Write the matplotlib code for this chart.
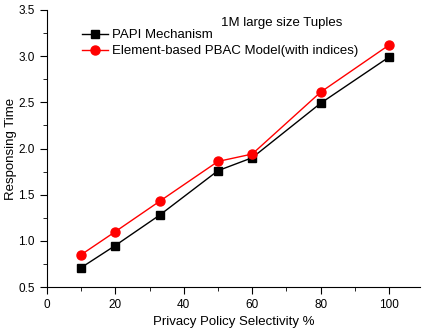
#!/usr/bin/env python3

import matplotlib
matplotlib.use("Agg")
import matplotlib.pyplot as plt
from matplotlib.ticker import MultipleLocator

plt.rcParams["font.family"] = ["Liberation Sans", "DejaVu Sans"]

# privacy policy selectivity (%)
selectivity = [10, 20, 33, 50, 60, 80, 100]
papi = [0.71, 0.95, 1.28, 1.76, 1.90, 2.49, 2.99]
pbac = [0.85, 1.10, 1.43, 1.86, 1.94, 2.61, 3.12]

labels = ["PAPI Mechanism", "Element-based PBAC Model(with indices)"]


def makeGraph(ax):
    ax.plot(selectivity, papi, color="black", marker="s", markersize=6,
            linewidth=1, label=labels[0])
    ax.plot(selectivity, pbac, color="red", marker="o", markersize=6.5,
            linewidth=1, label=labels[1])

    ax.set_xlim(0, 109)
    ax.set_ylim(0.5, 3.5)
    ax.xaxis.set_major_locator(MultipleLocator(20))
    ax.xaxis.set_minor_locator(MultipleLocator(10))
    ax.yaxis.set_major_locator(MultipleLocator(0.5))
    ax.yaxis.set_minor_locator(MultipleLocator(0.25))
    ax.yaxis.set_major_formatter(plt.FormatStrFormatter("%.1f"))

    ax.spines["top"].set_visible(False)
    ax.spines["right"].set_visible(False)
    ax.tick_params(which="major", direction="out", length=5, labelsize=8.5)
    ax.tick_params(which="minor", direction="out", length=3)

    ax.set_xlabel("Privacy Policy Selectivity %", fontsize=9.5)
    ax.set_ylabel("Responsing Time", fontsize=9.5, labelpad=1)

    ax.text(0.63, 0.975, "1M large size Tuples", transform=ax.transAxes,
            ha="center", va="top", fontsize=9.5)
    ax.legend(loc="upper left", bbox_to_anchor=(0.08, 0.95), frameon=False,
              fontsize=9.5, handlelength=2.0, handletextpad=0.3,
              labelspacing=0.3, borderaxespad=0)


if __name__ == "__main__":
    fig = plt.figure(figsize=(4.22, 3.30), dpi=100)
    ax = fig.add_axes([0.111, 0.130, 0.884, 0.840])
    makeGraph(ax)
    fig.savefig("out.png", dpi=100)
